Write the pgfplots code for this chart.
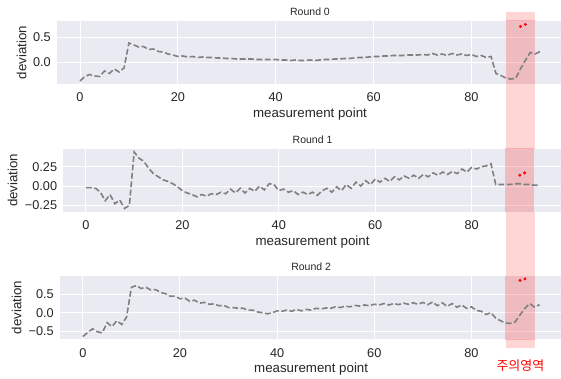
\documentclass[border=0pt]{standalone}
\usepackage{fontspec}
\setmainfont{Liberation Sans}
\newfontfamily\cjk{Noto Sans CJK KR}
\usepackage{pgfplots}
\pgfplotsset{compat=1.18}
\definecolor{axbg}{HTML}{EAEAF2}
\definecolor{txt}{HTML}{262626}
\definecolor{bandgap}{HTML}{FFD6D6}
\pgfdeclarelayer{bg}
\pgfsetlayers{bg,main}
\pgfplotsset{
 every axis title shift=0pt,
 dev/.style={
  scale only axis,
  axis background/.style={fill=axbg},
  axis line style={draw=none},
  major tick length=0pt,
  grid=major,
  major grid style={white, line width=1pt},
  xmin=-4.7, xmax=98.7,
  xtick={0,20,40,60,80},
  xticklabels={0,20,40,60,80},
  tick label style={font=\fontsize{12.7}{14}\selectfont, text=txt},
  xticklabel style={anchor=base, yshift=-18pt, inner sep=0pt},
  yticklabel style={anchor=east, xshift=-6pt, inner sep=0pt},
  label style={font=\fontsize{13.3}{15}\selectfont, text=txt},
  xlabel={measurement point},
  xlabel style={at={(axis description cs:0.5,0)}, anchor=base, yshift=-33.5pt, inner sep=0pt},
  ylabel={deviation},
  title style={font=\fontsize{10.5}{12}\selectfont, text=txt, at={(axis description cs:0.5,1)}, anchor=base, yshift=5.3pt, inner sep=0pt},
  /pgf/number format/assume math mode=true,
 },
 devline/.style={gray, line width=1.6pt, dash pattern=on 5.8pt off 2.6pt},
 band/.style={fill=red, fill opacity=0.2, draw=none, forget plot},
 dots/.style={only marks, mark=*, mark size=1.3pt, red, draw=none},
}
\begin{document}
\begin{tikzpicture}
\useasboundingbox (0,0) rectangle (561pt,378pt);
\clip (0,0) rectangle (561pt,378pt);

% Round 0
\begin{axis}[dev, at={(57pt,294pt)}, anchor=south west, width=506pt, height=63pt,
  ymin=-0.43, ymax=0.83, ytick={0,0.5}, yticklabels={0.0,0.5},
  ylabel style={at={(axis description cs:-0.0698,0.5)}, anchor=center},
  title={Round 0}]
\addplot[band] coordinates {(87,-2) (93,-2) (93,2) (87,2)} -- cycle;
\addplot[devline] coordinates {
(0,-0.37) (1,-0.28) (2,-0.24) (3,-0.27) (4,-0.28) (5,-0.17) (6,-0.22) (7,-0.13) (8,-0.19) (9,-0.11)
(10,0.39) (11,0.35) (12,0.31) (13,0.32) (14,0.26) (15,0.27) (16,0.22) (17,0.21) (18,0.17) (19,0.15)
(20,0.12) (21,0.13) (22,0.11) (23,0.12) (24,0.10) (25,0.11) (26,0.10) (27,0.10) (28,0.09) (29,0.09)
(30,0.08) (31,0.08) (32,0.07) (33,0.07) (34,0.07) (35,0.07) (36,0.06) (37,0.06) (38,0.06) (39,0.06)
(40,0.06) (41,0.05) (42,0.05) (43,0.04) (44,0.05) (45,0.04) (46,0.04) (47,0.05) (48,0.04) (49,0.05)
(50,0.06) (51,0.06) (52,0.07) (53,0.07) (54,0.08) (55,0.08) (56,0.09) (57,0.10) (58,0.10) (59,0.11)
(60,0.12) (61,0.12) (62,0.13) (63,0.13) (64,0.14) (65,0.14) (66,0.14) (67,0.15) (68,0.15) (69,0.15)
(70,0.16) (71,0.15) (72,0.18) (73,0.15) (74,0.17) (75,0.14) (76,0.18) (77,0.15) (78,0.17) (79,0.14)
(80,0.16) (81,0.12) (82,0.14) (83,0.10) (84,0.12) (85,-0.22) (86,-0.26) (87,-0.31) (88,-0.33) (89,-0.32)
(90,-0.13) (91,0.04) (92,0.20) (93,0.17) (94,0.22)};
\addplot[dots] coordinates {(90,0.72) (91,0.76)};
\coordinate (bandL) at (axis cs:87,0);
\coordinate (bandR) at (axis cs:93,0);
\coordinate (bandM) at (axis cs:90,0);
\end{axis}

% Round 1
\begin{axis}[dev, at={(63.3pt,166.3pt)}, anchor=south west, width=498.5pt, height=62.7pt,
  ymin=-0.332, ymax=0.479, ytick={-0.25,0,0.25}, yticklabels={−0.25,0.00,0.25},
  ylabel style={at={(axis description cs:-0.1015,0.5)}, anchor=center},
  title={Round 1}]
\addplot[band] coordinates {(87,-2) (93,-2) (93,2) (87,2)} -- cycle;
\addplot[devline] coordinates {
(0,-0.02) (1,-0.02) (2,-0.03) (3,-0.08) (4,-0.19) (5,-0.11) (6,-0.23) (7,-0.18) (8,-0.29) (9,-0.25)
(10,0.44) (11,0.36) (12,0.32) (13,0.23) (14,0.16) (15,0.12) (16,0.08) (17,0.06) (18,0.03) (19,-0.01)
(20,-0.06) (21,-0.09) (22,-0.11) (23,-0.14) (24,-0.11) (25,-0.13) (26,-0.10) (27,-0.11) (28,-0.08) (29,-0.10)
(30,-0.04) (31,-0.09) (32,-0.03) (33,-0.09) (34,-0.03) (35,-0.07) (36,0.00) (37,-0.05) (38,0.03) (39,0.02)
(40,-0.06) (41,-0.04) (42,-0.08) (43,-0.06) (44,-0.11) (45,-0.08) (46,-0.11) (47,-0.08) (48,-0.12) (49,-0.06)
(50,-0.03) (51,-0.08) (52,-0.01) (53,-0.06) (54,0.02) (55,-0.03) (56,0.05) (57,0.00) (58,0.07) (59,0.02)
(60,0.09) (61,0.05) (62,0.10) (63,0.06) (64,0.12) (65,0.08) (66,0.13) (67,0.10) (68,0.14) (69,0.10)
(70,0.15) (71,0.12) (72,0.17) (73,0.14) (74,0.18) (75,0.15) (76,0.19) (77,0.16) (78,0.22) (79,0.18)
(80,0.24) (81,0.22) (82,0.25) (83,0.26) (84,0.29) (85,0.02) (86,0.02) (87,0.02) (88,0.02) (89,0.03)
(90,0.03) (91,0.02) (92,0.02) (93,0.01) (94,0.01)};
\addplot[dots] coordinates {(90,0.14) (91,0.17)};
\end{axis}

% Round 2
\begin{axis}[dev, at={(60pt,38.7pt)}, anchor=south west, width=502.3pt, height=63.3pt,
  ymin=-0.725, ymax=1.0, ytick={-0.5,0,0.5}, yticklabels={−0.5,0.0,0.5},
  ylabel style={at={(axis description cs:-0.0862,0.5)}, anchor=center},
  title={Round 2}]
\addplot[band] coordinates {(87,-2) (93,-2) (93,2) (87,2)} -- cycle;
\addplot[devline] coordinates {
(0,-0.65) (1,-0.54) (2,-0.44) (3,-0.52) (4,-0.55) (5,-0.27) (6,-0.38) (7,-0.22) (8,-0.32) (9,-0.12)
(10,0.69) (11,0.74) (12,0.66) (13,0.69) (14,0.62) (15,0.63) (16,0.55) (17,0.52) (18,0.45) (19,0.45)
(20,0.38) (21,0.40) (22,0.31) (23,0.34) (24,0.26) (25,0.28) (26,0.23) (27,0.24) (28,0.19) (29,0.20)
(30,0.14) (31,0.14) (32,0.12) (33,0.12) (34,0.07) (35,0.07) (36,0.02) (37,0.00) (38,-0.03) (39,0.00)
(40,0.05) (41,0.04) (42,0.07) (43,0.04) (44,0.09) (45,0.05) (46,0.09) (47,0.07) (48,0.12) (49,0.10)
(50,0.13) (51,0.12) (52,0.16) (53,0.14) (54,0.18) (55,0.16) (56,0.20) (57,0.18) (58,0.21) (59,0.19)
(60,0.23) (61,0.21) (62,0.25) (63,0.21) (64,0.25) (65,0.22) (66,0.26) (67,0.23) (68,0.27) (69,0.23)
(70,0.28) (71,0.22) (72,0.29) (73,0.19) (74,0.27) (75,0.17) (76,0.25) (77,0.15) (78,0.21) (79,0.12)
(80,0.16) (81,0.06) (82,0.04) (83,-0.05) (84,0.00) (85,-0.15) (86,-0.22) (87,-0.28) (88,-0.29) (89,-0.25)
(90,-0.06) (91,0.12) (92,0.25) (93,0.15) (94,0.22)};
\addplot[dots] coordinates {(90,0.88) (91,0.92)};
\end{axis}

\begin{pgfonlayer}{bg}
\fill[bandgap] (bandL |- 0,30.3pt) rectangle (bandR |- 0,366pt);
\end{pgfonlayer}
\node[text=red, font=\cjk\fontsize{13}{15}\selectfont] at (bandM |- 0,12pt) {주의영역};
\end{tikzpicture}
\end{document}
